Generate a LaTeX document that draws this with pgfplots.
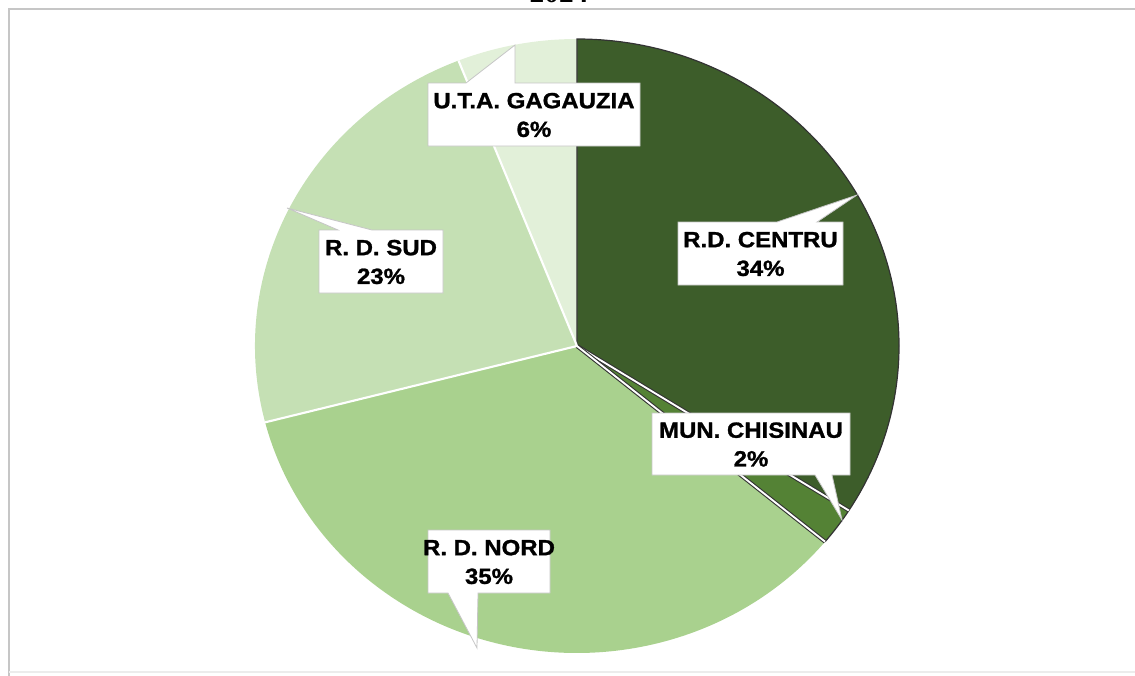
\documentclass[border=0pt]{standalone}
\usepackage{pgfplots}
\pgfplotsset{compat=1.18}
\usepackage{pgfplotstable}
\usepackage{fontspec}
\setmainfont{Liberation Sans}[BoldFeatures={FakeBold=1.2}]
\newfontfamily\titlefont{Liberation Serif}

\definecolor{gCentru}{HTML}{3D5D2A}
\definecolor{gChis}{HTML}{548235}
\definecolor{gNord}{HTML}{A9D18E}
\definecolor{gSud}{HTML}{C5E0B4}
\definecolor{gGag}{HTML}{E2F0D9}

% share of each region, clockwise from 12 o'clock
\pgfplotstableread[col sep=comma]{
name,value,col
R.D. CENTRU,34,gCentru
MUN. CHISINAU,2,gChis
R. D. NORD,35,gNord
R. D. SUD,23,gSud
U.T.A. GAGAUZIA,6,gGag
}\pietable

% start/end angle of every slice
\def\cum{0}
\pgfplotsforeachungrouped \i in {0,...,4}{%
  \pgfplotstablegetelem{\i}{value}\of\pietable
  \pgfmathsetmacro\a{90-3.6*\cum}%
  \pgfmathsetmacro\cum{\cum+\pgfplotsretval}%
  \pgfmathsetmacro\b{90-3.6*\cum}%
  \expandafter\xdef\csname sa\i\endcsname{\a}%
  \expandafter\xdef\csname sb\i\endcsname{\b}%
}

\def\rx{241.5pt}
\def\ry{230.25pt}

\tikzset{lbl/.style={font=\fontsize{16.5}{21.5}\selectfont\bfseries,
  align=center, inner sep=0pt, xscale=1.09},
  box/.style={draw=gray!45, fill=white, line width=0.6pt}}

\begin{document}
\begin{tikzpicture}
\useasboundingbox (0,0) rectangle (851.25pt,506.25pt);
\clip (0,0) rectangle (851.25pt,506.25pt);
\begin{axis}[
    at={(0,0)}, anchor=south west,
    scale only axis, width=851.25pt, height=506.25pt,
    xmin=0, xmax=1135, ymin=0, ymax=675, y dir=reverse,
    hide axis, clip=false
]
% slices
\pgfplotsforeachungrouped \i in {0,...,4}{%
  \pgfplotstablegetelem{\i}{col}\of\pietable
  \edef\temp{\noexpand\fill[\pgfplotsretval] (577,346) -- ++(\csname sa\i\endcsname:\rx\space and \ry)
    arc[start angle=\csname sa\i\endcsname, end angle=\csname sb\i\endcsname, x radius=\rx, y radius=\ry] -- cycle;}%
  \temp
}
% outline of the dark slices
\edef\temp{\noexpand\draw[black!80, line width=0.9pt] (577,346) -- ++(\csname sa0\endcsname:\rx\space and \ry)
  arc[start angle=\csname sa0\endcsname, end angle=\csname sb1\endcsname, x radius=\rx, y radius=\ry];}%
\temp
% separators
\pgfplotsforeachungrouped \i in {1,2}{%
  \edef\temp{\noexpand\draw[black!80, line width=3pt] (577,346) -- ++(\csname sa\i\endcsname:\rx\space and \ry);
    \noexpand\draw[white, line width=1.4pt] (577,346) -- ++(\csname sa\i\endcsname:\rx\space and \ry);}%
  \temp
}
\pgfplotsforeachungrouped \i in {3,4}{%
  \edef\temp{\noexpand\draw[white, line width=1.6pt] (577,346) -- ++(\csname sa\i\endcsname:\rx\space and \ry);}%
  \temp
}

% callouts
\draw[box] (678,222) -- (777,222) -- (857,195) -- (817,222) -- (843,222) -- (843,285) -- (678,285) -- cycle;
\node[lbl] at (760.5,254) {R.D. CENTRU\\34\%};

\draw[box] (652,413) -- (850,413) -- (850,475) -- (832,475) -- (842,520) -- (815,475) -- (652,475) -- cycle;
\node[lbl] at (751,444.5) {MUN. CHISINAU\\2\%};

\draw[box] (319,230) -- (338,230) -- (287,208) -- (372,230) -- (443,230) -- (443,293) -- (319,293) -- cycle;
\node[lbl] at (381,262) {R. D. SUD\\23\%};

\draw[box] (428,530) -- (550,530) -- (550,593) -- (478,593) -- (477,648) -- (448,593) -- (428,593) -- cycle;
\node[lbl] at (489,562) {R. D. NORD\\35\%};

\draw[box] (428,83) -- (466,83) -- (515,45) -- (515,83) -- (640,83) -- (640,146) -- (428,146) -- cycle;
\node[lbl] at (534,115) {U.T.A. GAGAUZIA\\6\%};

% frame of the picture and clipped title
\draw[gray!45, line width=1.5pt] (9,690) -- (9,9) -- (1150,9);
\draw[gray!15, line width=1pt] (9,672) -- (1150,672);
\node[anchor=base, font=\titlefont\bfseries\fontsize{22}{24}\selectfont] at (559,2.5) {2024};
\end{axis}
\end{tikzpicture}
\end{document}
